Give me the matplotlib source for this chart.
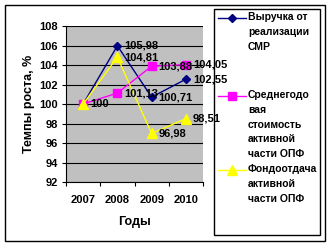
import matplotlib.pyplot as plt
from matplotlib.lines import Line2D
from matplotlib.patches import Rectangle

plt.rcParams['font.family'] = ['Liberation Sans', 'DejaVu Sans']
plt.rcParams['font.weight'] = 'bold'

years = ['2007', '2008', '2009', '2010']
revenue = [100, 105.98, 100.71, 102.55]
avg_cost = [100, 101.13, 103.88, 104.05]
capital_prod = [100, 104.81, 96.98, 98.51]

# labels shown for each series (None = no label)
revenue_lbl = ['100', '105,98', '100,71', '102,55']
avg_cost_lbl = [None, '101,13', '103,88', '104,05']
capital_lbl = [None, '104,81', '96,98', '98,51']

names = ['Выручка от\nреализации\nСМР',
         'Среднегодо\nвая\nстоимость\nактивной\nчасти ОПФ',
         'Фондоотдача\nактивной\nчасти ОПФ']
colors = ['#000080', '#FF00FF', '#FFFF00']
markers = ['D', 's', '^']
msizes = [4.5, 5.5, 7]

fs = 8

fig = plt.figure(figsize=(3.35, 2.46), dpi=100)
ax = fig.add_axes([0.197, 0.26, 0.409, 0.634])
ax.set_facecolor('#C0C0C0')

x = list(range(len(years)))
series = [revenue, avg_cost, capital_prod]
lbls = [revenue_lbl, avg_cost_lbl, capital_lbl]
for vals, lab, c, m, ms in zip(series, lbls, colors, markers, msizes):
    ax.plot(x, vals, color=c, marker=m, markersize=ms, lw=1, zorder=3,
            clip_on=False)
    for xi, v, t in zip(x, vals, lab):
        if t:
            ax.annotate(t, (xi, v), xytext=(5, 0), textcoords='offset points',
                        ha='left', va='center', fontsize=fs, weight='bold',
                        annotation_clip=False, zorder=5)

ax.set_xlim(-0.5, 3.5)
ax.set_ylim(92, 108)
ax.set_yticks(range(92, 109, 2))
ax.set_xticks(x)
ax.set_xticklabels(years)
ax.set_xticks([-0.5, 0.5, 1.5, 2.5, 3.5], minor=True)
ax.tick_params(axis='x', which='major', length=0, pad=9, labelsize=fs)
ax.tick_params(axis='x', which='minor', length=3, width=0.8)
ax.tick_params(axis='y', length=3, width=0.8, labelsize=fs, pad=3)
ax.yaxis.grid(True, color='black', lw=0.8)
ax.set_axisbelow(True)
for s in ['top', 'right']:
    ax.spines[s].set_visible(False)
ax.spines['left'].set_linewidth(0.8)
ax.spines['bottom'].set_linewidth(0.8)
ax.set_xlabel('Годы', fontsize=9, weight='bold', labelpad=8)
ax.set_ylabel('Темпы роста, %', fontsize=9, weight='bold', labelpad=3)

# outer border and legend box
W, H = 335, 246
fig.patches.append(Rectangle((5 / W, 1 - 241 / H), 320 / W, 236 / H,
                             transform=fig.transFigure, fill=False,
                             lw=1, ec='black'))
fig.patches.append(Rectangle((214 / W, 1 - 235 / H), 106 / W, 226 / H,
                             transform=fig.transFigure, fill=False,
                             lw=1, ec='black'))

entry_y = [18, 96, 170]
for name, c, m, ms, yy in zip(names, colors, markers, msizes, entry_y):
    fy = 1 - yy / H
    fig.lines.append(Line2D([218 / W, 246 / W], [fy, fy], color=c, lw=1,
                            transform=fig.transFigure))
    fig.lines.append(Line2D([232 / W], [fy], color=c, marker=m, markersize=ms,
                            transform=fig.transFigure))
    fig.text(248 / W, fy + 6 / H, name, fontsize=7.5, weight='bold',
             va='top', ha='left', linespacing=1.6)

fig.savefig('out.png', dpi=100)
